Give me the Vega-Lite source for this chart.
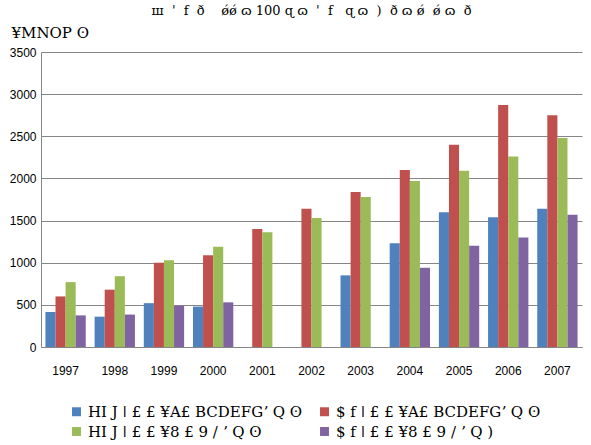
{
  "$schema": "https://vega.github.io/schema/vega-lite/v6.json",
  "width": 541,
  "height": 295,
  "autosize": {"type": "none"},
  "padding": {"left": 41, "top": 52, "right": 9, "bottom": 98},
  "background": "white",
  "title": {"text": "ш\u00a0\u00a0'\u00a0\u00a0f\u00a0\u00a0ð\u00a0\u00a0\u00a0\u00a0ǿǿ\u00a0ɷ\u00a0100\u00a0ɋ\u00a0ɷ\u00a0\u00a0'\u00a0\u00a0f\u00a0\u00a0\u00a0ɋ\u00a0ɷ\u00a0\u00a0)\u00a0\u00a0ð\u00a0ɷ\u00a0ǿ\u00a0\u00a0ǿ\u00a0ɷ\u00a0\u00a0ð", "font": "DejaVu Serif", "fontSize": 13, "fontWeight": "normal", "color": "black", "offset": -6, "baseline": "bottom"},
  "data": {"values": [
    {"year": "1997", "s": "a", "v": 415}, {"year": "1997", "s": "b", "v": 600}, {"year": "1997", "s": "c", "v": 770}, {"year": "1997", "s": "d", "v": 375},
    {"year": "1998", "s": "a", "v": 360}, {"year": "1998", "s": "b", "v": 680}, {"year": "1998", "s": "c", "v": 840}, {"year": "1998", "s": "d", "v": 385},
    {"year": "1999", "s": "a", "v": 520}, {"year": "1999", "s": "b", "v": 1000}, {"year": "1999", "s": "c", "v": 1030}, {"year": "1999", "s": "d", "v": 490},
    {"year": "2000", "s": "a", "v": 480}, {"year": "2000", "s": "b", "v": 1090}, {"year": "2000", "s": "c", "v": 1190}, {"year": "2000", "s": "d", "v": 530},
    {"year": "2001", "s": "b", "v": 1400}, {"year": "2001", "s": "c", "v": 1360},
    {"year": "2002", "s": "b", "v": 1640}, {"year": "2002", "s": "c", "v": 1530},
    {"year": "2003", "s": "a", "v": 850}, {"year": "2003", "s": "b", "v": 1840}, {"year": "2003", "s": "c", "v": 1780},
    {"year": "2004", "s": "a", "v": 1230}, {"year": "2004", "s": "b", "v": 2100}, {"year": "2004", "s": "c", "v": 1970}, {"year": "2004", "s": "d", "v": 940},
    {"year": "2005", "s": "a", "v": 1600}, {"year": "2005", "s": "b", "v": 2400}, {"year": "2005", "s": "c", "v": 2090}, {"year": "2005", "s": "d", "v": 1200},
    {"year": "2006", "s": "a", "v": 1540}, {"year": "2006", "s": "b", "v": 2870}, {"year": "2006", "s": "c", "v": 2260}, {"year": "2006", "s": "d", "v": 1300},
    {"year": "2007", "s": "a", "v": 1640}, {"year": "2007", "s": "b", "v": 2750}, {"year": "2007", "s": "c", "v": 2480}, {"year": "2007", "s": "d", "v": 1570}
  ]},
  "mark": {"type": "bar"},
  "encoding": {
    "x": {"field": "year", "type": "nominal", "scale": {"paddingInner": 0.18, "paddingOuter": 0.09},
      "axis": {"title": null, "labelAngle": 0, "labelFont": "Liberation Sans", "labelFontSize": 12, "labelColor": "black", "domainColor": "#868686", "tickColor": "#868686", "ticks": false, "labelPadding": 18}},
    "xOffset": {"field": "s", "type": "nominal", "scale": {"domain": ["a", "b", "c", "d"]}},
    "y": {"field": "v", "type": "quantitative", "scale": {"domain": [0, 3500]},
      "axis": {"title": "¥MNOP ʘ", "titleFont": "DejaVu Serif", "titleFontSize": 15, "titleFontWeight": "normal", "titleColor": "black", "titleAngle": 0, "titleAlign": "left", "titleBaseline": "middle", "titleX": -30, "titleY": -20,
        "values": [0, 500, 1000, 1500, 2000, 2500, 3000, 3500], "format": "d", "labelFont": "Liberation Sans", "labelFontSize": 12, "labelColor": "black", "gridColor": "#868686", "gridWidth": 1, "domainColor": "#868686", "ticks": false, "labelPadding": 5}},
    "color": {"field": "s", "type": "nominal",
      "scale": {"domain": ["a", "b", "c", "d"], "range": ["#4F81BD", "#C0504D", "#9BBB59", "#8064A2"]},
      "legend": {"title": null, "orient": "none", "legendX": 28, "legendY": 352, "columns": 2, "direction": "horizontal", "symbolType": "square", "symbolSize": 80, "symbolStrokeWidth": 0,
        "labelFont": "DejaVu Serif", "labelFontSize": 15, "labelColor": "black", "labelLimit": 300, "rowPadding": 4, "columnPadding": 14,
        "labelExpr": "datum.value == 'a' ? 'HI J ǀ £ £ ¥A£ BCDEFG\u02bc Q ʘ' : datum.value == 'b' ? '$ f ǀ £ £ ¥A£ BCDEFG\u02bc Q ʘ' : datum.value == 'c' ? 'HI J ǀ £ £ ¥8 £ 9 / \u02bc Q ʘ' : '$ f ǀ £ £ ¥8 £ 9 / \u02bc Q )'"}}
  },
  "config": {"view": {"stroke": null}}
}
